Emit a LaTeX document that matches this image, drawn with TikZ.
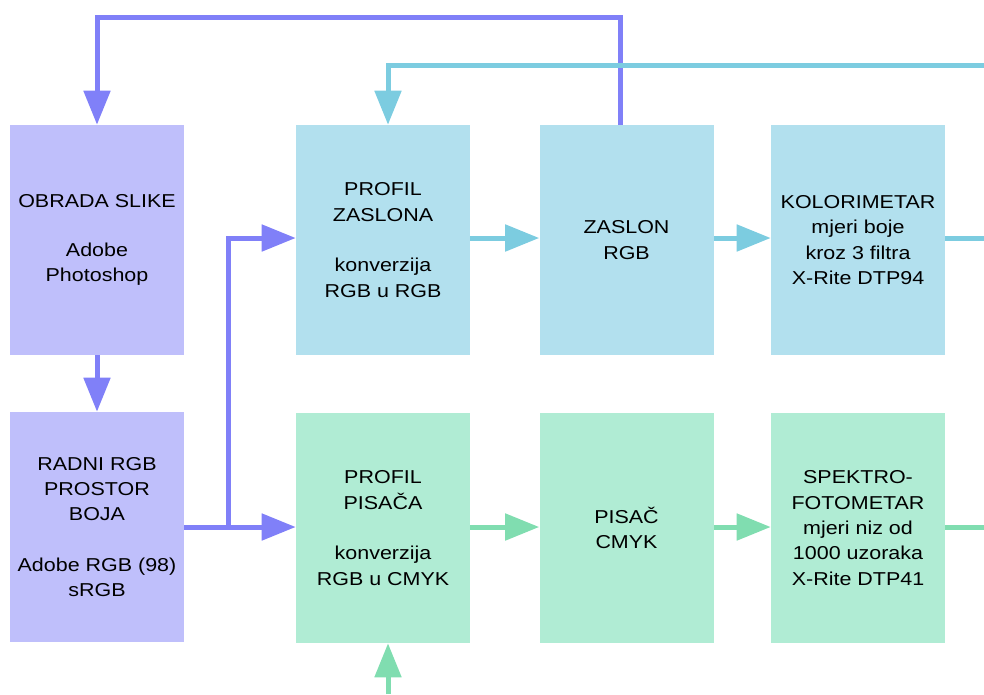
\documentclass[tikz,border=0pt]{standalone}
\usepackage{fontspec}
\setmainfont{Liberation Sans}[FakeStretch=1.15]
\usetikzlibrary{arrows.meta,calc,positioning}
\definecolor{lilabox}{RGB}{191,191,251}
\definecolor{lilaline}{RGB}{128,128,248}
\definecolor{plavabox}{RGB}{178,224,238}
\definecolor{plavaline}{RGB}{124,204,224}
\definecolor{zelenabox}{RGB}{176,236,212}
\definecolor{zelenaline}{RGB}{128,221,176}

\begin{document}
\begin{tikzpicture}[x=0.75pt,y=-0.75pt,
    box/.style={minimum width=130.5pt,minimum height=172.5pt,inner sep=0pt,align=center,
      font=\fontsize{14}{19}\selectfont},
    veza/.style={line width=3.75pt},
    flow/.style={veza,-{Triangle[length=25.5pt,width=19.5pt]}}]
        \useasboundingbox (0,0) rectangle (984,694);
        %Boxes
        \node[box,fill=lilabox] (obrada) at (97,240) {OBRADA SLIKE\\[18pt]Adobe\\Photoshop};
        \node[box,fill=lilabox] (radni) at (97,527) {RADNI RGB\\PROSTOR\\BOJA\\[19pt]Adobe RGB (98)\\sRGB};
        \node[box,fill=plavabox] (profZ) at (383,240) {PROFIL\\ZASLONA\\[19pt]konverzija\\RGB u RGB};
        \node[box,fill=plavabox] (zaslon) at (626.5,240) {ZASLON\\RGB};
        \node[box,fill=plavabox] (kolor) at (858,240) {KOLORIMETAR\\mjeri boje\\kroz 3 filtra\\X-Rite DTP94};
        \node[box,fill=zelenabox] (profP) at (383,528) {PROFIL\\PISAČA\\[19pt]konverzija\\RGB u CMYK};
        \node[box,fill=zelenabox] (pisac) at (626.5,528) {PISAČ\\CMYK};
        \node[box,fill=zelenabox] (spektro) at (858,528) {SPEKTRO-\\FOTOMETAR\\mjeri niz od\\1000 uzoraka\\X-Rite DTP41};
        %Free ends
        \coordinate (gore) at (620,17);
        \coordinate (razd) at (228,527);
        \coordinate (plavoGore) at (984,65);
        \coordinate (plavoDesno) at (984,238);
        \coordinate (zelenoDesno) at (984,527);
        \coordinate (dolje) at (388,694);
        %Purple arrows
        \draw[flow,lilaline] (zaslon.north -| gore) -- (gore) -| (obrada.north);
        \draw[flow,lilaline] (obrada) -- (radni);
        \draw[flow,lilaline] (radni.east |- razd) -- (profP.west |- razd);
        \draw[flow,lilaline] (razd) |- (profZ.west |- plavoDesno);
        %Blue arrows
        \draw[flow,plavaline] (plavoGore) -| (profZ.north -| dolje);
        \draw[flow,plavaline] (profZ.east |- plavoDesno) -- (zaslon.west |- plavoDesno);
        \draw[flow,plavaline] (zaslon.east |- plavoDesno) -- (kolor.west |- plavoDesno);
        \draw[veza,plavaline] (kolor.east |- plavoDesno) -- (plavoDesno);
        %Green arrows
        \draw[flow,zelenaline] (profP.east |- zelenoDesno) -- (pisac.west |- zelenoDesno);
        \draw[flow,zelenaline] (pisac.east |- zelenoDesno) -- (spektro.west |- zelenoDesno);
        \draw[veza,zelenaline] (spektro.east |- zelenoDesno) -- (zelenoDesno);
        \draw[flow,zelenaline] (dolje) -- (profP.south -| dolje);
\end{tikzpicture}
\end{document}
